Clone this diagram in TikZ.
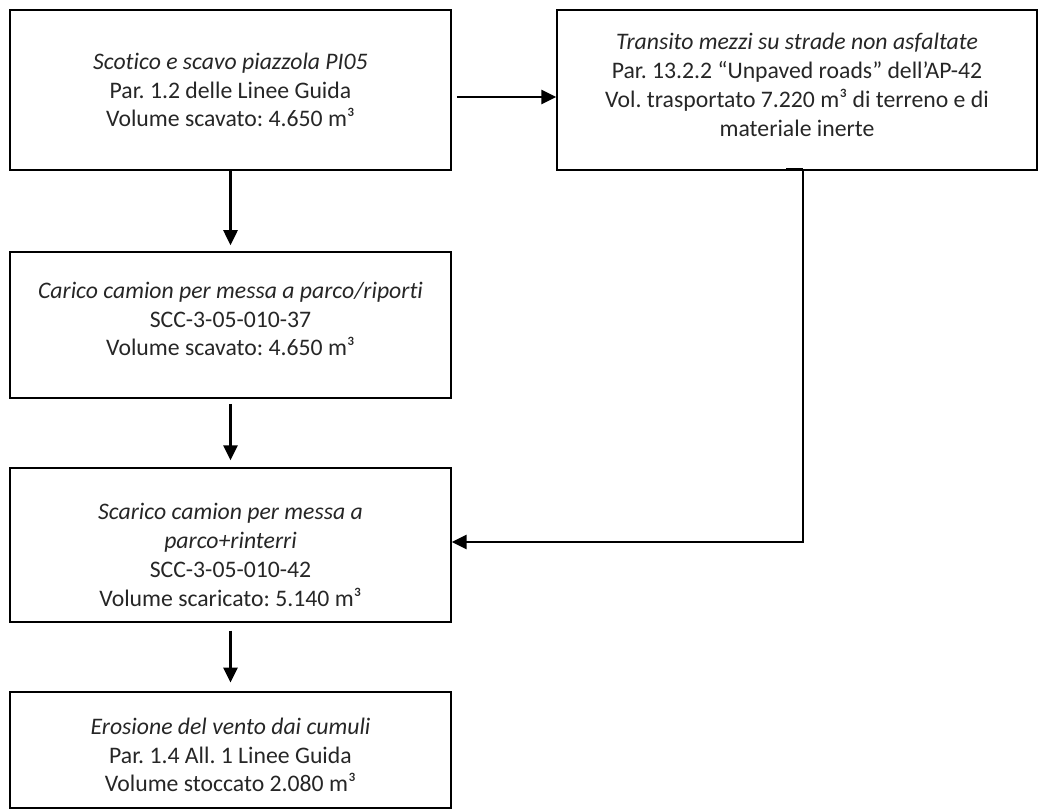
\documentclass[tikz,border=0pt]{standalone}
\usepackage{fontspec}
\setmainfont{Carlito}[Ligatures=NoCommon]
\frenchspacing
\usetikzlibrary{arrows.meta}
\begin{document}
\begin{tikzpicture}[x=0.02cm,y=-0.02cm,
    box/.style={draw,line width=0.8pt,inner sep=0pt},
    txt/.style={inner sep=0pt,align=center,text=black!85,
      font=\fontsize{13.5}{16.4}\selectfont},
    arr/.style={line width=1.4pt,-{Triangle[length=8.5pt,width=8pt]}}]
    \useasboundingbox (0,0) rectangle (1039,812);
    % boxes
    \node[box,minimum width=8.82cm,minimum height=3.2cm] (scavo) at (230.5,90) {};
    \node[box,minimum width=9.6cm,minimum height=3.2cm] (transito) at (797,90) {};
    \node[box,minimum width=8.82cm,minimum height=2.92cm] (carico) at (230.5,325) {};
    \node[box,minimum width=8.82cm,minimum height=3.08cm] (scarico) at (230.5,545) {};
    \node[box,minimum width=8.82cm,minimum height=2.32cm] (erosione) at (230.5,750) {};
    % texts
    \node[txt] (scavo-t) at (230.5,90)
      {\textit{Scotico e scavo piazzola PI05}\\Par. 1.2 delle Linee Guida\\Volume scavato: 4.650 m³};
    \node[txt] (transito-t) at (797,85)
      {\textit{Transito mezzi su strade non asfaltate}\\Par. 13.2.2 “Unpaved roads” dell’AP-42\\
       Vol. trasportato 7.220 m³ di terreno e di\\materiale inerte};
    \node[txt] (carico-t) at (230.5,319)
      {\textit{Carico camion per messa a parco/riporti}\\SCC-3-05-010-37\\Volume scavato: 4.650 m³};
    \node[txt] (scarico-t) at (230.5,555)
      {\textit{Scarico camion per messa a}\\\textit{parco+rinterri}\\SCC-3-05-010-42\\Volume scaricato: 5.140 m³};
    \node[txt] (erosione-t) at (230.5,755)
      {\textit{Erosione del vento dai cumuli}\\Par. 1.4 All. 1 Linee Guida\\Volume stoccato 2.080 m³};
    % arrows
    \coordinate (gomito) at (803,542);
    \draw[arr,shorten <=3pt] ([yshift=-0.14cm]scavo.east) -- ([yshift=-0.14cm]transito.west);
    \draw[arr,shorten >=3.5pt] (scavo.south) -- (carico.north);
    \draw[arr,shorten <=3pt,shorten >=4pt] (carico.south) -- (scarico.north);
    \draw[arr,shorten <=4.5pt,shorten >=5pt] (scarico.south) -- (erosione.north);
    \draw[line width=1.6pt] (786,169) -- (803,169);
    \draw[arr] (transito.south -| gomito) -- (gomito) -- (scarico.east |- gomito);
  \end{tikzpicture}
\end{document}
